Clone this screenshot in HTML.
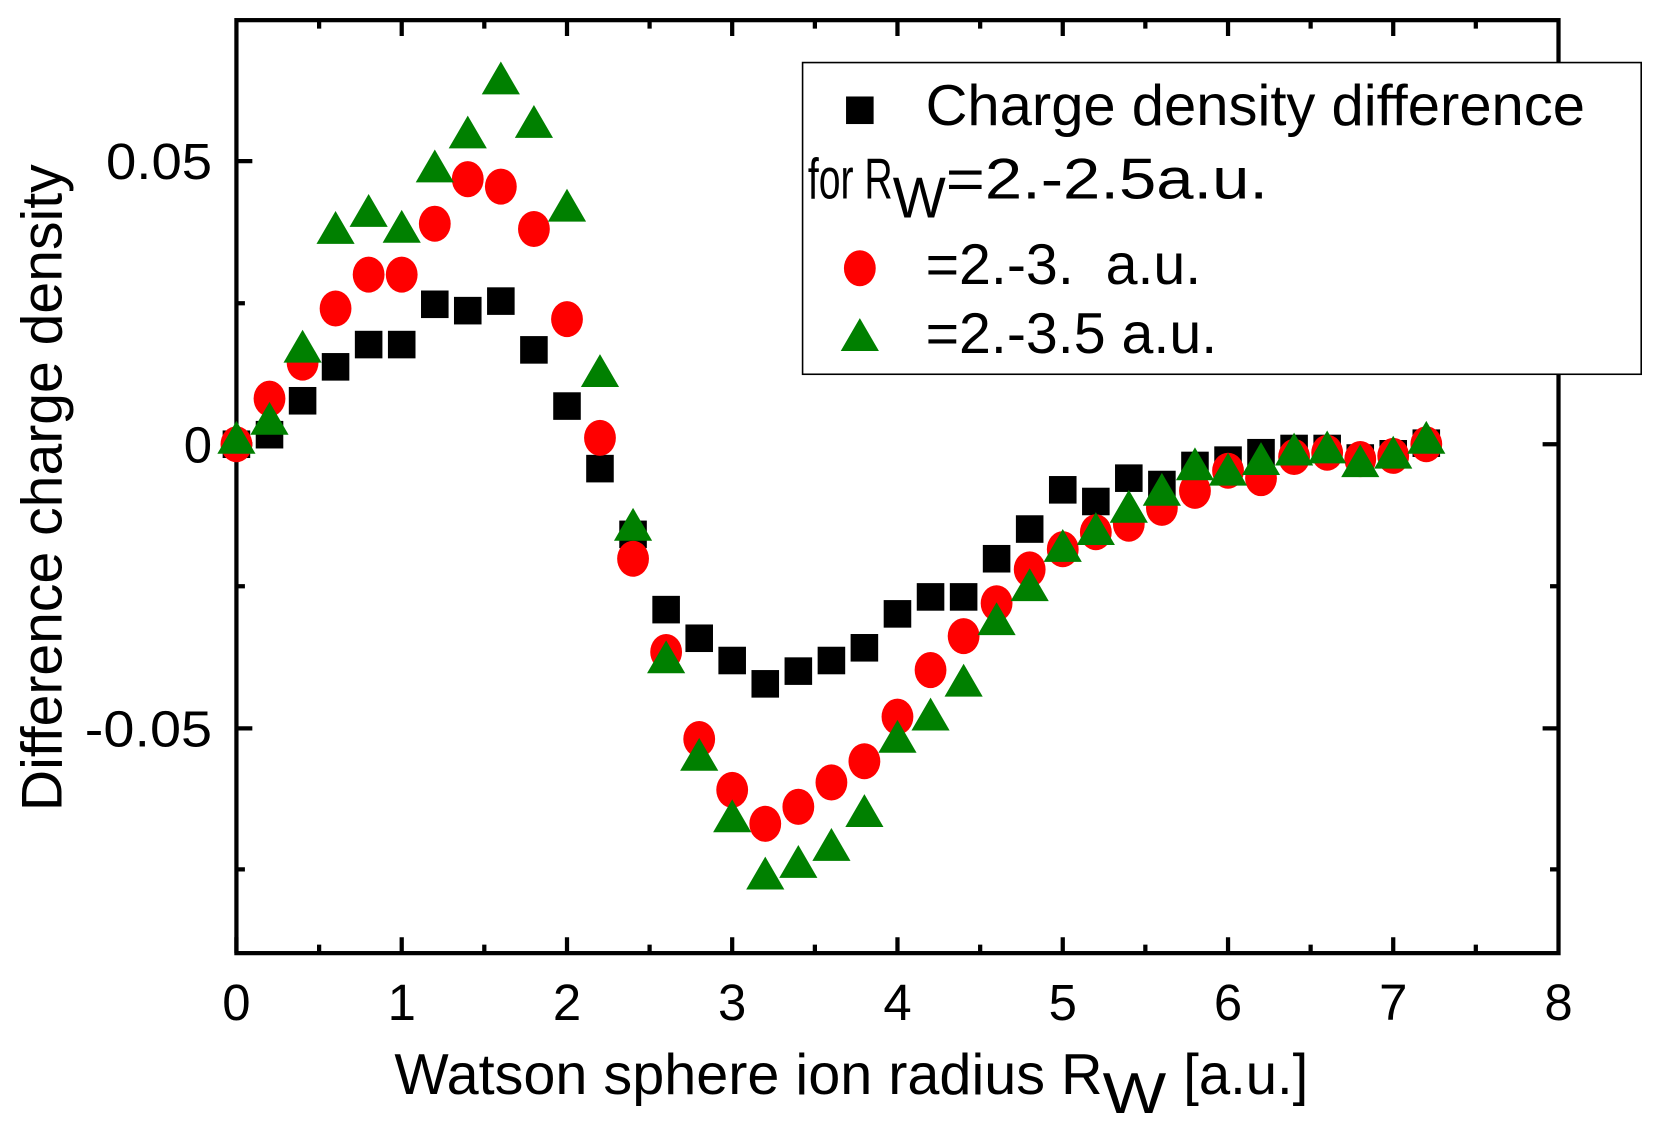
<!DOCTYPE html>
<html><head><meta charset="utf-8"><style>html,body{margin:0;padding:0;background:#fff}svg{display:block}</style></head>
<body>
<svg width="1664" height="1139" viewBox="0 0 1569.5 1074.3" xmlns="http://www.w3.org/2000/svg" font-family="Liberation Sans, sans-serif">
<defs>
<rect id="sq" x="-13" y="-13" width="26" height="26" fill="#000"/>
<ellipse id="ci" rx="15" ry="17" fill="#f00"/>
<polygon id="tr" points="0,-19 18,12 -18,12" fill="#008000"/>
</defs>
<rect width="1570" height="1075" fill="#fff"/>
<g>
<g stroke="#000" stroke-width="4" fill="none">
<rect x="223" y="19" width="1247" height="880"/>
<path d="M223,899v-15M378.9,899v-15M534.8,899v-15M690.6,899v-15M846.5,899v-15M1002.4,899v-15M1158.3,899v-15M1314.1,899v-15
M301,899v-8M456.8,899v-8M612.7,899v-8M768.6,899v-8M924.5,899v-8M1080.3,899v-8M1236.2,899v-8M1392,899v-8
M378.9,19v15M534.8,19v15M690.6,19v15M846.5,19v15M1002.4,19v15M1158.3,19v15M1314.1,19v15
M301,19v8M456.8,19v8M612.7,19v8M768.6,19v8M924.5,19v8M1080.3,19v8M1236.2,19v8M1392,19v8
M223,152h15M223,419h15M223,687h15M223,286h8M223,553h8M223,820h8
M1470,152h-15M1470,419h-15M1470,687h-15M1470,286h-8M1470,553h-8M1470,820h-8"/>
</g>
<g font-size="48" fill="#000" text-anchor="middle">
<text x="223" y="962">0</text><text x="378.9" y="962">1</text><text x="534.8" y="962">2</text><text x="690.6" y="962">3</text><text x="846.5" y="962">4</text><text x="1002.4" y="962">5</text><text x="1158.3" y="962">6</text><text x="1314.1" y="962">7</text><text x="1470" y="962">8</text>
</g>
<g>
<use href="#sq" x="223" y="419"/><use href="#sq" x="254.2" y="410"/><use href="#sq" x="285.4" y="378"/><use href="#sq" x="316.5" y="346"/><use href="#sq" x="347.7" y="325"/><use href="#sq" x="378.9" y="325"/><use href="#sq" x="410.1" y="287"/><use href="#sq" x="441.2" y="293"/><use href="#sq" x="472.4" y="284"/><use href="#sq" x="503.6" y="330"/><use href="#sq" x="534.8" y="383"/><use href="#sq" x="565.9" y="442"/><use href="#sq" x="597.1" y="504"/><use href="#sq" x="628.3" y="575"/><use href="#sq" x="659.5" y="602"/><use href="#sq" x="690.6" y="623"/><use href="#sq" x="721.8" y="645"/><use href="#sq" x="753" y="633"/><use href="#sq" x="784.2" y="623"/><use href="#sq" x="815.3" y="611"/><use href="#sq" x="846.5" y="579"/><use href="#sq" x="877.7" y="563"/><use href="#sq" x="908.9" y="563"/><use href="#sq" x="940" y="527"/><use href="#sq" x="971.2" y="499"/><use href="#sq" x="1002.4" y="462"/><use href="#sq" x="1033.6" y="473"/><use href="#sq" x="1064.7" y="451"/><use href="#sq" x="1095.9" y="457"/><use href="#sq" x="1127.1" y="439"/><use href="#sq" x="1158.3" y="434"/><use href="#sq" x="1189.4" y="427"/><use href="#sq" x="1220.6" y="423"/><use href="#sq" x="1251.8" y="423"/><use href="#sq" x="1283" y="432"/><use href="#sq" x="1314.1" y="428"/><use href="#sq" x="1345.3" y="418"/>
</g>
<g>
<use href="#ci" x="223" y="419"/><use href="#ci" x="254.2" y="376"/><use href="#ci" x="285.4" y="342"/><use href="#ci" x="316.5" y="291"/><use href="#ci" x="347.7" y="259"/><use href="#ci" x="378.9" y="259"/><use href="#ci" x="410.1" y="211"/><use href="#ci" x="441.2" y="169"/><use href="#ci" x="472.4" y="176"/><use href="#ci" x="503.6" y="216"/><use href="#ci" x="534.8" y="301"/><use href="#ci" x="565.9" y="413"/><use href="#ci" x="597.1" y="527"/><use href="#ci" x="628.3" y="615"/><use href="#ci" x="659.5" y="697"/><use href="#ci" x="690.6" y="745"/><use href="#ci" x="721.8" y="777"/><use href="#ci" x="753" y="761"/><use href="#ci" x="784.2" y="738"/><use href="#ci" x="815.3" y="718"/><use href="#ci" x="846.5" y="676"/><use href="#ci" x="877.7" y="632"/><use href="#ci" x="908.9" y="600"/><use href="#ci" x="940" y="569"/><use href="#ci" x="971.2" y="537"/><use href="#ci" x="1002.4" y="518"/><use href="#ci" x="1033.6" y="502"/><use href="#ci" x="1064.7" y="494"/><use href="#ci" x="1095.9" y="479"/><use href="#ci" x="1127.1" y="463"/><use href="#ci" x="1158.3" y="444"/><use href="#ci" x="1189.4" y="451"/><use href="#ci" x="1220.6" y="431"/><use href="#ci" x="1251.8" y="427"/><use href="#ci" x="1283" y="433"/><use href="#ci" x="1314.1" y="430"/><use href="#ci" x="1345.3" y="419"/>
</g>
<g>
<use href="#tr" x="223" y="416"/><use href="#tr" x="254.2" y="398"/><use href="#tr" x="285.4" y="330"/><use href="#tr" x="316.5" y="218"/><use href="#tr" x="347.7" y="202"/><use href="#tr" x="378.9" y="217"/><use href="#tr" x="410.1" y="160"/><use href="#tr" x="441.2" y="128"/><use href="#tr" x="472.4" y="77"/><use href="#tr" x="503.6" y="118"/><use href="#tr" x="534.8" y="197"/><use href="#tr" x="565.9" y="353"/><use href="#tr" x="597.1" y="498"/><use href="#tr" x="628.3" y="623"/><use href="#tr" x="659.5" y="715"/><use href="#tr" x="690.6" y="773"/><use href="#tr" x="721.8" y="827"/><use href="#tr" x="753" y="816"/><use href="#tr" x="784.2" y="800"/><use href="#tr" x="815.3" y="768"/><use href="#tr" x="846.5" y="698"/><use href="#tr" x="877.7" y="677"/><use href="#tr" x="908.9" y="645"/><use href="#tr" x="940" y="587"/><use href="#tr" x="971.2" y="555"/><use href="#tr" x="1002.4" y="518"/><use href="#tr" x="1033.6" y="502"/><use href="#tr" x="1064.7" y="481"/><use href="#tr" x="1095.9" y="465"/><use href="#tr" x="1127.1" y="441"/><use href="#tr" x="1158.3" y="446"/><use href="#tr" x="1189.4" y="436"/><use href="#tr" x="1220.6" y="427"/><use href="#tr" x="1251.8" y="425"/><use href="#tr" x="1283" y="438"/><use href="#tr" x="1314.1" y="430"/><use href="#tr" x="1345.3" y="416"/>
</g>
</g>
<g font-size="48" fill="#000">
<text x="200" y="169" text-anchor="end" textLength="100" lengthAdjust="spacingAndGlyphs">0.05</text>
<text x="200" y="436" text-anchor="end">0</text>
<text x="200" y="704" text-anchor="end" textLength="120" lengthAdjust="spacingAndGlyphs">-0.05</text>
</g>
<text x="372" y="1032" font-size="54" textLength="668" lengthAdjust="spacingAndGlyphs">Watson sphere ion radius R</text>
<text x="1040" y="1050" font-size="54" textLength="60" lengthAdjust="spacingAndGlyphs">W</text>
<text x="1116" y="1032" font-size="54" textLength="118" lengthAdjust="spacingAndGlyphs">[a.u.]</text>
<text transform="translate(58,765) rotate(-90)" font-size="54" textLength="610" lengthAdjust="spacingAndGlyphs">Difference charge density</text>

<rect x="757" y="59" width="791" height="294" fill="#fff" stroke="#000" stroke-width="1.5"/>
<rect x="798" y="91" width="26" height="26" fill="#000"/>
<ellipse cx="811" cy="253" rx="15" ry="17" fill="#f00"/>
<polygon points="811,300 829,331 793,331" fill="#008000"/>
<g font-size="54" fill="#000">
<text x="873" y="118" textLength="622" lengthAdjust="spacingAndGlyphs">Charge density difference</text>
<text x="762" y="187" textLength="80" lengthAdjust="spacingAndGlyphs">for R</text>
<text x="842" y="205" textLength="50" lengthAdjust="spacingAndGlyphs">W</text>
<text x="892" y="187" textLength="304" lengthAdjust="spacingAndGlyphs">=2.-2.5a.u.</text>
<text x="873" y="268" textLength="260" lengthAdjust="spacingAndGlyphs" xml:space="preserve">=2.-3.  a.u.</text>
<text x="873" y="333" textLength="275" lengthAdjust="spacingAndGlyphs">=2.-3.5 a.u.</text>
</g>
</svg>
</body></html>
